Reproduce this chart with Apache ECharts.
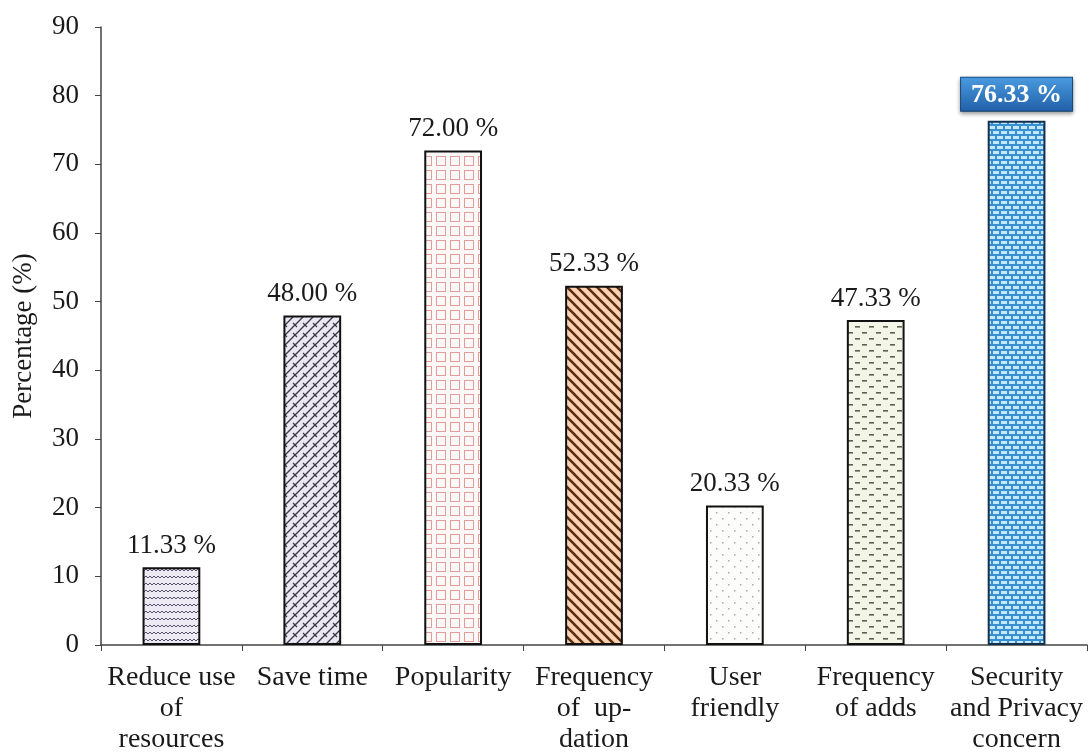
<!DOCTYPE html>
<html style="height: 100%">
<head>
<meta charset="utf-8">
<script src="https://cdn.jsdelivr.net/npm/echarts@6/dist/echarts.min.js"></script>
</head>
<body style="height: 100%; margin: 0; background: #fff">
<div id="container" style="width: 1088px; height: 756px"></div>
<script type="text/javascript">
var categories = ['Reduce use\nof\nresources', 'Save time', 'Popularity', 'Frequency\nof  up-\ndation', 'User\nfriendly', 'Frequency\nof adds', 'Security\nand Privacy\nconcern'];
var values = [11.33, 48.00, 72.00, 52.33, 20.33, 47.33, 76.33];
var yTicks = [0, 10, 20, 30, 40, 50, 60, 70, 80, 90];

// small canvases used as fill patterns
function pat(w, h, draw) {
    var c = document.createElement('canvas');
    c.width = w; c.height = h;
    var g = c.getContext('2d');
    draw(g, w, h);
    return {image: c, repeat: 'repeat'};
}
var patterns = [
    pat(8, 7, function (g, w, h) {
        g.fillStyle = '#eeeaf3'; g.fillRect(0, 0, w, h);
        g.strokeStyle = '#55506a'; g.lineWidth = 1;
        g.beginPath(); g.moveTo(0, 4); g.lineTo(2, 2); g.lineTo(4, 4); g.lineTo(6, 2); g.lineTo(8, 4); g.stroke();
    }),
    pat(10, 10, function (g, w, h) {
        g.fillStyle = '#ebe7f3'; g.fillRect(0, 0, w, h);
        g.strokeStyle = '#3d3a48'; g.lineWidth = 1.3;
        g.beginPath(); g.moveTo(0, 10); g.lineTo(10, 0); g.stroke();
        g.beginPath(); g.moveTo(-1, 1); g.lineTo(1, -1); g.stroke();
        g.beginPath(); g.moveTo(9, 11); g.lineTo(11, 9); g.stroke();
        g.beginPath(); g.moveTo(3, 3); g.lineTo(7, 7); g.stroke();
    }),
    pat(14, 14, function (g, w, h) {
        g.fillStyle = '#fdf8f8'; g.fillRect(0, 0, w, h);
        g.strokeStyle = '#e69a9a'; g.lineWidth = 1;
        g.strokeRect(2.5, 2.5, 9, 9);
    }),
    pat(10, 10, function (g, w, h) {
        g.fillStyle = '#fbd3b2'; g.fillRect(0, 0, w, h);
        g.strokeStyle = '#5a2c12'; g.lineWidth = 2.6;
        g.beginPath(); g.moveTo(0, 0); g.lineTo(10, 10); g.stroke();
        g.beginPath(); g.moveTo(-5, 5); g.lineTo(5, 15); g.stroke();
        g.beginPath(); g.moveTo(5, -5); g.lineTo(15, 5); g.stroke();
    }),
    pat(12, 12, function (g, w, h) {
        g.fillStyle = '#fcfcfa'; g.fillRect(0, 0, w, h);
        g.fillStyle = '#a8a8a8';
        g.fillRect(2, 2, 1.5, 1.5); g.fillRect(8, 8, 1.5, 1.5);
    }),
    pat(14, 12, function (g, w, h) {
        g.fillStyle = '#f3f5e6'; g.fillRect(0, 0, w, h);
        g.fillStyle = '#5b6150';
        g.fillRect(1, 2, 5, 1.6); g.fillRect(8, 8, 5, 1.6);
    }),
    pat(16, 10, function (g, w, h) {
        g.fillStyle = '#3a8fd0'; g.fillRect(0, 0, w, h);
        g.fillStyle = '#c4e8fb';
        g.fillRect(1, 1, 6, 3); g.fillRect(9, 1, 6, 3);
        g.fillRect(-3, 6, 6, 3); g.fillRect(5, 6, 6, 3); g.fillRect(13, 6, 6, 3);
    })
];

var dom = document.getElementById('container');
var myChart = echarts.init(dom);
var font = '"Liberation Serif", "Times New Roman", serif';

var seriesData = values.map(function (v, i) {
    var d = {
        value: v,
        itemStyle: {
            color: patterns[i],
            borderColor: i === 6 ? '#14304f' : '#111',
            borderWidth: 2
        }
    };
    if (i === 6) {
        d.label = {
            color: '#fff',
            fontWeight: 'bold',
            fontSize: 26,
            backgroundColor: {
                type: 'linear', x: 0, y: 0, x2: 0, y2: 1,
                colorStops: [{offset: 0, color: '#4b9be0'}, {offset: 1, color: '#1f5fa8'}]
            },
            borderColor: '#1b4f8a',
            borderWidth: 1,
            padding: [4, 10, 3, 10],
            distance: 10,
            shadowColor: 'rgba(0,0,0,0.35)',
            shadowBlur: 4,
            shadowOffsetY: 2
        };
    }
    return d;
});

var option = {
    animation: false,
    grid: {left: 101, right: 1, top: 27, bottom: 111},
    xAxis: {
        type: 'category',
        data: categories,
        axisLine: {lineStyle: {color: '#444', width: 1.5}},
        axisTick: {show: true, length: 6, lineStyle: {color: '#444'}},
        axisLabel: {
            interval: 0,
            color: '#1a1a1a',
            fontFamily: font,
            fontSize: 28,
            lineHeight: 31,
            margin: 17
        }
    },
    yAxis: {
        type: 'value',
        min: 0,
        max: 90,
        interval: 10,
        name: 'Percentage (%)',
        nameLocation: 'middle',
        nameGap: 64,
        nameTextStyle: {color: '#1a1a1a', fontFamily: font, fontSize: 27},
        splitLine: {show: false},
        axisLine: {show: true, lineStyle: {color: '#444', width: 1.5}},
        axisTick: {show: true, length: 6, lineStyle: {color: '#444'}},
        axisLabel: {
            color: '#1a1a1a',
            fontFamily: font,
            fontSize: 27,
            margin: 22,
            formatter: function (v) { return yTicks.indexOf(v) >= 0 ? String(v) : ''; }
        }
    },
    series: [{
        type: 'bar',
        data: seriesData,
        barWidth: '41%',
        label: {
            show: true,
            position: 'top',
            distance: 8,
            color: '#1a1a1a',
            fontFamily: font,
            fontSize: 27,
            formatter: function (p) { return p.value.toFixed(2) + ' %'; }
        }
    }]
};
myChart.setOption(option);
</script>
</body>
</html>
